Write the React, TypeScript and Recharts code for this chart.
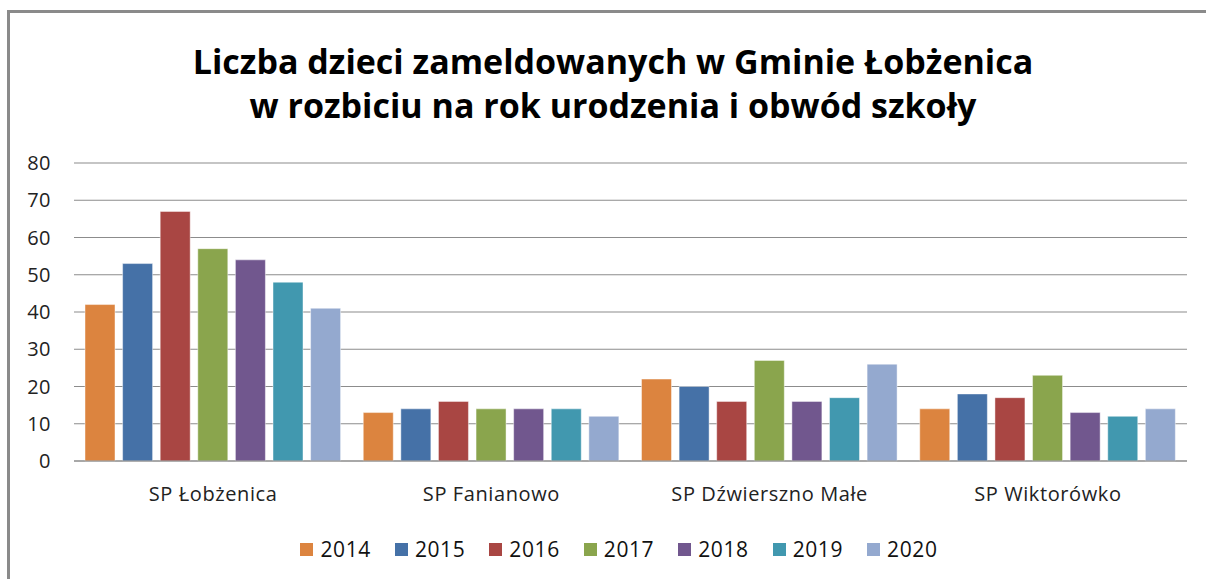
import React from 'react';
import { BarChart, Bar, XAxis, YAxis, CartesianGrid, Legend } from 'recharts';

const categories = ['SP Łobżenica', 'SP Fanianowo', 'SP Dźwierszno Małe', 'SP Wiktorówko'];
const years = ['2014', '2015', '2016', '2017', '2018', '2019', '2020'];
const v2014 = [42, 13, 22, 14];
const v2015 = [53, 14, 20, 18];
const v2016 = [67, 16, 16, 17];
const v2017 = [57, 14, 27, 23];
const v2018 = [54, 14, 16, 13];
const v2019 = [48, 14, 17, 12];
const v2020 = [41, 12, 26, 14];
const yTicks = [0, 10, 20, 30, 40, 50, 60, 70, 80];
const colors = ['#DC843F', '#4571A7', '#A94643', '#8AA54D', '#71578E', '#4198AF', '#94A9CF'];

const seriesValues = [v2014, v2015, v2016, v2017, v2018, v2019, v2020];
const data = categories.map((c, i) => {
  const row: Record<string, string | number> = { name: c };
  years.forEach((y, j) => { row[y] = seriesValues[j][i]; });
  return row;
});

const FONT = "'Open Sans', sans-serif";

const LegendContent = (props: any) => {
  const payload = props.payload || [];
  return (
    <div style={{ height: 24, display: 'flex', justifyContent: 'center', alignItems: 'center', fontFamily: FONT, fontSize: 21, color: '#111', paddingLeft: 0 }}>
      {payload.map((p: any, i: number) => (
        <div key={p.value} style={{ display: 'flex', alignItems: 'center', marginRight: i < payload.length - 1 ? 24 : 0 }}>
          <span style={{ display: 'inline-block', width: 13, height: 13, background: p.color, marginRight: 7 }} />
          <span style={{ letterSpacing: 0.6 }}>{p.value}</span>
        </div>
      ))}
    </div>
  );
};

export default function App() {
  return (
    <div style={{ position: 'absolute', left: 0, top: 0, width: 1206, height: 579, background: '#fff', overflow: 'hidden', fontFamily: FONT }}>
      <div style={{ position: 'absolute', left: 7, top: 10, width: 1300, height: 700, borderLeft: '3px solid #8a8a8a', borderTop: '3px solid #8a8a8a' }} />
      <div style={{ position: 'absolute', left: 0, top: 39, width: 1226, textAlign: 'center', fontWeight: 700, fontSize: 34, lineHeight: '44px', color: '#000' }}>
        Liczba dzieci zameldowanych w Gminie Łobżenica<br />w rozbiciu na rok urodzenia i obwód szkoły
      </div>
      <div style={{ position: 'absolute', left: 0, top: 0 }}>
        <BarChart width={1206} height={579} data={data} margin={{ top: 163, right: 19, bottom: 0, left: 0 }} barSize={30} barGap={7.6}>
          <CartesianGrid vertical={false} stroke="#8c8c8c" strokeWidth={1.2} />
          <XAxis dataKey="name" axisLine={{ stroke: '#8c8c8c', strokeWidth: 1.2 }} tickLine={false} tick={{ fill: '#222', fontSize: 20, fontFamily: FONT, letterSpacing: 0.6 }} tickMargin={20} height={94} interval={0} />
          <YAxis domain={[0, 80]} ticks={yTicks} axisLine={false} tickLine={false} tick={{ fill: '#222', fontSize: 20, fontFamily: FONT, letterSpacing: 0.5 }} width={74} tickMargin={17} interval={0} />
          <Legend verticalAlign="bottom" content={<LegendContent />} wrapperStyle={{ bottom: 18, left: 16, width: 1206 }} />
          {years.map((y, j) => (
            <Bar key={y} dataKey={y} fill={colors[j]} stroke="rgba(255,255,255,0.45)" strokeWidth={1} isAnimationActive={false} />
          ))}
        </BarChart>
      </div>
    </div>
  );
}
